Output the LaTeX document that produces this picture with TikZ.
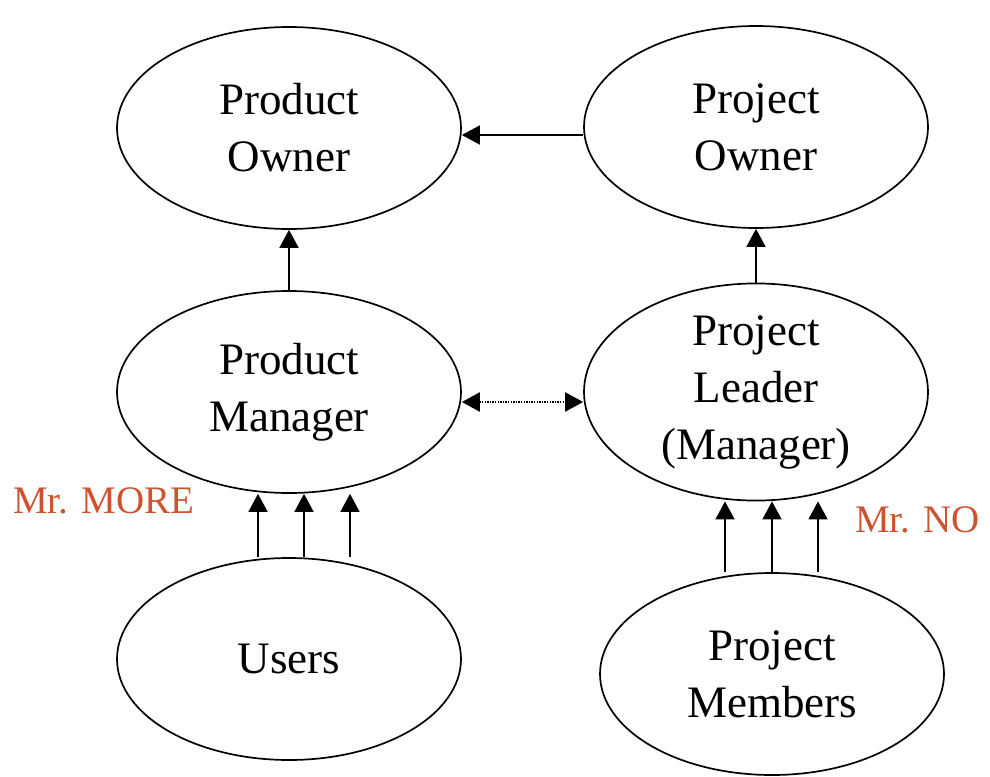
\documentclass[tikz,border=0pt]{standalone}
\usepackage{fontspec}
\setmainfont{Liberation Serif}
\usetikzlibrary{arrows.meta,shapes.geometric}
\definecolor{mrred}{RGB}{205,82,48}

\begin{document}
\begin{tikzpicture}[x=1pt,y=-1pt,
	role/.style={draw,ellipse,line width=1.7pt,minimum width=344pt,minimum height=202pt,inner sep=0pt,align=center,font=\fontsize{45}{57}\selectfont},
	link/.style={line width=1.7pt,-{Triangle[width=19pt,length=18pt]}},
	talk/.style={line width=2.2pt,dash pattern=on 1.4pt off 1.2pt,{Triangle[width=19pt,length=18pt]}-{Triangle[width=19pt,length=18pt]}},
	nick/.style={text=mrred,font=\fontsize{39}{44}\selectfont,anchor=base west,inner sep=0pt}]
			\useasboundingbox (0,0) rectangle (990,776);
			\node[role] (prodowner) at (289,128) {Product\\Owner};
			\node[role] (projowner) at (756,127) {Project\\Owner};
			\node[role] (prodmgr) at (289,392) {Product\\Manager};
			\node[role] (projlead) at (756,392) {Project\\Leader\\(Manager)};
			\node[role] (users) at (289,659) {Users};
			\node[role] (members) at (772,674) {Project\\Members};
			\node[nick] (more) at (13,513) {Mr. MORE};
			\node[nick] (no) at (855,532) {Mr. NO};
			\draw[link] (projowner.west |- 0,135) -- (prodowner.east |- 0,135);
			\draw[link] (prodmgr.north) -- (prodowner.south);
			\draw[link] (projlead.north) -- (projowner.south);
			\draw[talk] (prodmgr.east |- 0,402) -- (projlead.west |- 0,402);
			\foreach \x in {258,304,350}
				\draw[link] (users.north -| \x,0) -- (prodmgr.south -| \x,0);
			\foreach \x in {725,772,818}
				\draw[link] (members.north -| \x,0) -- (projlead.south -| \x,0);
\end{tikzpicture}
\end{document}
